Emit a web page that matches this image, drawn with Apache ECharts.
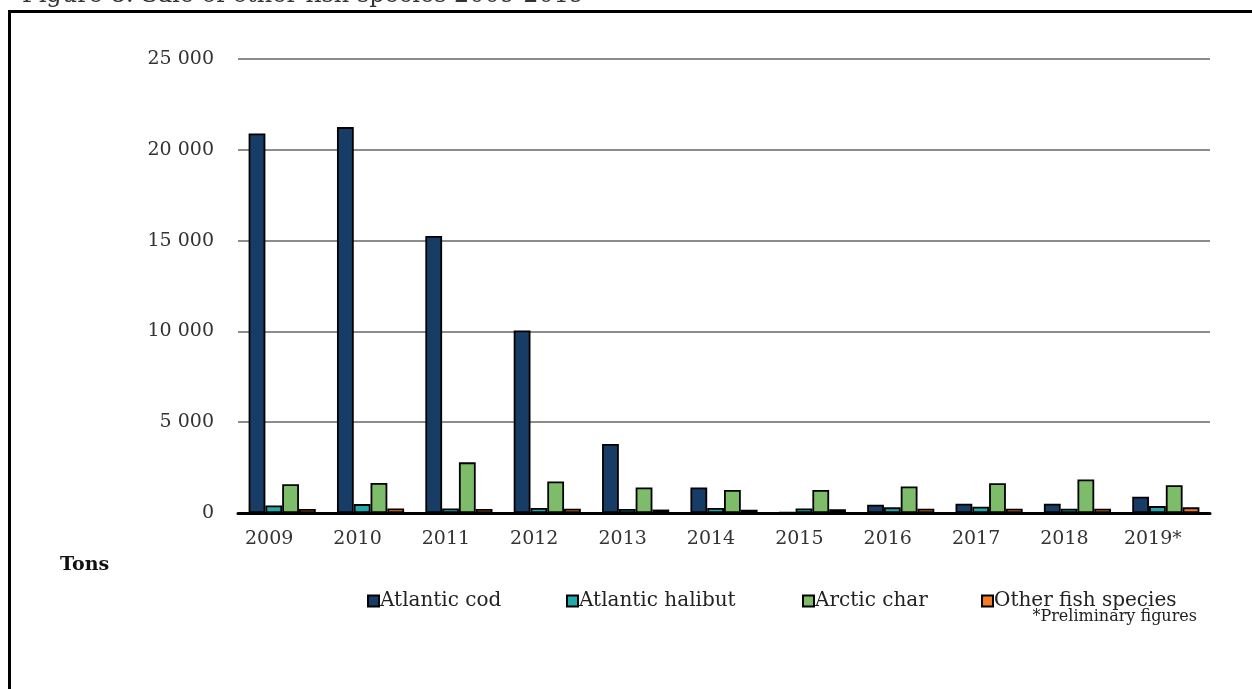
<!DOCTYPE html>
<html>
<head>
<meta charset="utf-8">
<title>Sale of other fish species 2009-2019</title>
<script src="https://cdn.jsdelivr.net/npm/echarts@6/dist/echarts.min.js"></script>
<style>
  html, body { margin: 0; padding: 0; background: #fff; }
  #chart { width: 1252px; height: 689px; }
</style>
</head>
<body>
<div id="chart"></div>
<script>
// data (tons)
const years = ['2009', '2010', '2011', '2012', '2013', '2014', '2015', '2016', '2017', '2018', '2019*'];
const atlanticCod = [20900, 21250, 15250, 10050, 3800, 1410, 30, 460, 510, 510, 900];
const atlanticHalibut = [410, 490, 250, 280, 220, 280, 250, 310, 350, 230, 380];
const arcticChar = [1590, 1650, 2790, 1740, 1410, 1270, 1270, 1460, 1640, 1850, 1530];
const otherFish = [220, 250, 220, 230, 190, 180, 200, 240, 230, 230, 310];
const yTicks = [0, 5000, 10000, 15000, 20000, 25000];
const seriesNames = ['Atlantic cod', 'Atlantic halibut', 'Arctic char', 'Other fish species'];

const font = 'DejaVu Serif';
let chartDom = document.getElementById('chart');
let myChart = echarts.init(chartDom);

function fmt(v) {
  // thousands with a space, like "25 000"
  return String(v).replace(/\B(?=(\d{3})+(?!\d))/g, ' ');
}

function bar(name, data, color) {
  return {
    name: name,
    type: 'bar',
    data: data,
    barGap: 0,
    barCategoryGap: '24%',
    itemStyle: { color: color, borderColor: '#000', borderWidth: 1.8 }
  };
}

// one legend per item so each sits where it is in the original
const legendLeft = [362, 561, 797, 976];
let legends = seriesNames.map((n, i) => ({
  data: [n],
  left: legendLeft[i],
  top: 586,
  itemWidth: 11,
  itemHeight: 11,
  icon: 'rect',
  textStyle: { color: '#222', fontSize: 20, fontFamily: font, padding: [0, 0, 0, -4] }
}));

let option = {
  animation: false,
  textStyle: { fontFamily: font },
  grid: { left: 238, right: 42, top: 59, bottom: 176 },
  xAxis: {
    type: 'category',
    data: years,
    axisLine: { lineStyle: { color: '#000', width: 3 } },
    axisTick: { show: false },
    axisLabel: { color: '#333', fontSize: 19, fontFamily: font, margin: 17, padding: [0, 26, 0, 0] }
  },
  yAxis: {
    type: 'value',
    min: yTicks[0],
    max: yTicks[yTicks.length - 1],
    interval: yTicks[1] - yTicks[0],
    axisLine: { show: false },
    axisTick: { show: false },
    splitLine: { lineStyle: { color: '#8c8c8c', width: 2 } },
    axisLabel: { color: '#333', fontSize: 19, fontFamily: font, margin: 24, formatter: fmt }
  },
  legend: legends,
  graphic: [
    {
      type: 'polyline',
      shape: { points: [[9.5, 689], [9.5, 11.5], [1252, 11.5]] },
      style: { stroke: '#000', lineWidth: 3, fill: null }
    },
    {
      type: 'text', left: 22, top: -16,
      style: { text: 'Figure 8: Sale of other fish species 2009-2019', font: '24px "DejaVu Serif"', fill: '#333' }
    },
    {
      type: 'text', left: 60, top: 556,
      style: { text: 'Tons', font: 'bold 19px "DejaVu Serif"', fill: '#111' }
    },
    {
      type: 'text', right: 55, top: 609,
      style: { text: '*Preliminary figures', font: '16px "DejaVu Serif"', fill: '#222' }
    }
  ],
  series: [
    bar(seriesNames[0], atlanticCod, '#173d66'),
    bar(seriesNames[1], atlanticHalibut, '#21a9ad'),
    bar(seriesNames[2], arcticChar, '#7dbd69'),
    bar(seriesNames[3], otherFish, '#f47c28')
  ]
};

option && myChart.setOption(option);
</script>
</body>
</html>
